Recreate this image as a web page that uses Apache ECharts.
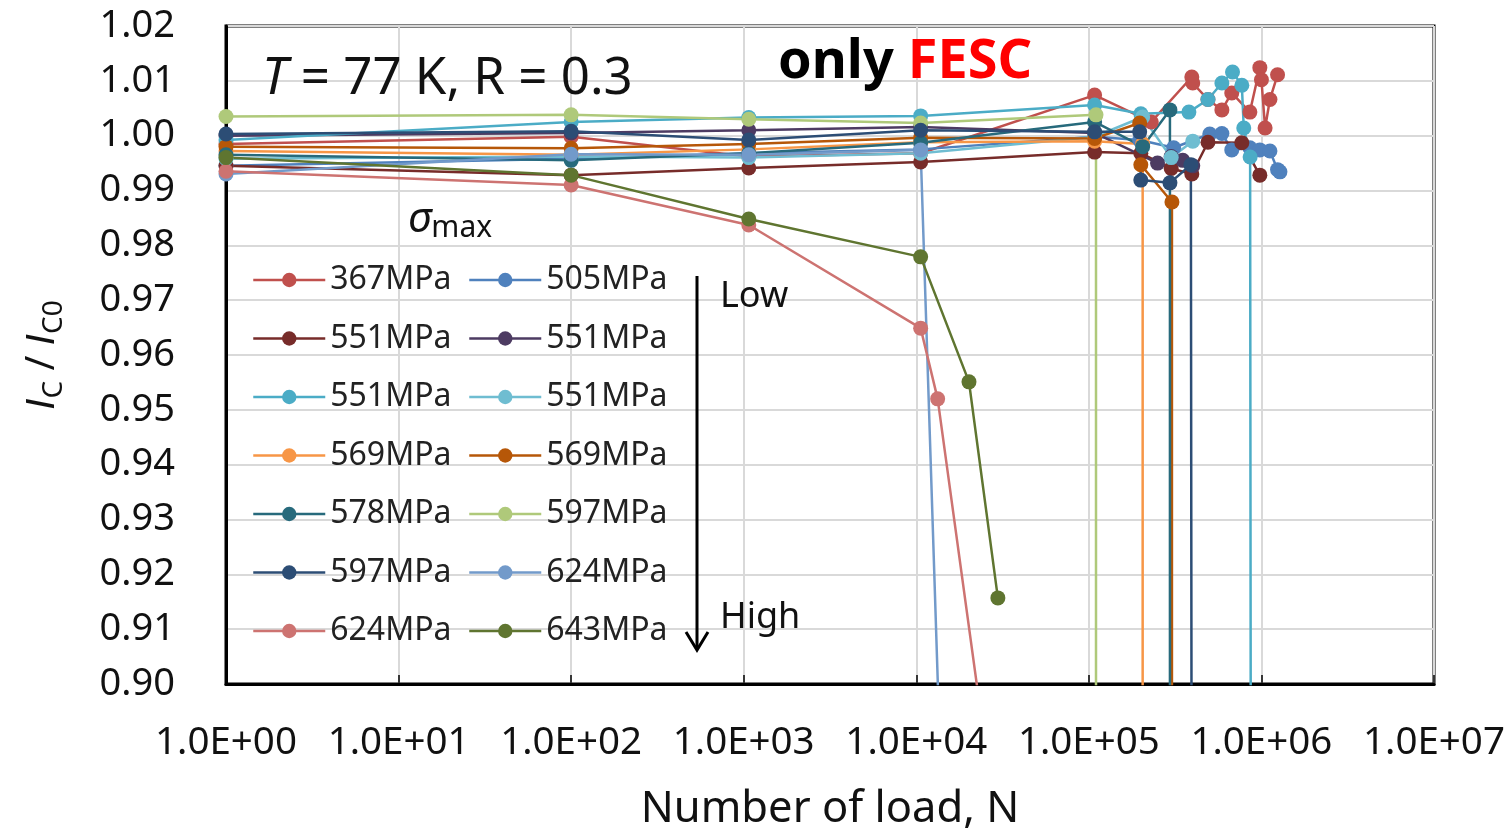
<!DOCTYPE html>
<html>
<head>
    <meta charset="utf-8">
    <title>Ic/Ic0 vs number of load</title>
    <script src="https://cdn.jsdelivr.net/npm/echarts@6/dist/echarts.min.js"></script>
    <style>
        body { margin: 0; background: #fff; }
        #chart { width: 1506px; height: 831px; }
    </style>
</head>
<body>
<div id="chart"></div>
<script type="text/javascript">
    // number of load N and Ic/Ic0 for each sigma_max
    var N_367 = [1, 100, 1070, 10600, 108000, 230000, 395000, 400000, 490000, 590000, 673000, 857000, 979000, 1000000, 1050000, 1120000, 1240000];
    var R_367 = [0.9985, 0.9998, 0.9962, 0.9968, 1.0074, 1.0025, 1.0107, 1.0096, 1.0066, 1.0047, 1.0078, 1.0043, 1.0124, 1.0102, 1.0014, 1.0066, 1.0111];

    var N_505 = [1, 100, 1070, 10600, 108000, 197000, 310000, 502000, 590000, 673000, 857000, 979000, 1120000, 1240000, 1280000];
    var R_505 = [0.9945, 0.9958, 0.9968, 0.9975, 0.9998, 0.9992, 0.9978, 1.0003, 1.0004, 0.9974, 0.9978, 0.9974, 0.9972, 0.9938, 0.9934];

    var N_551a = [1, 100, 1070, 10600, 108000, 200000, 300000, 395000, 490000, 770000, 979000];
    var R_551a = [0.9945, 0.9928, 0.9941, 0.9952, 0.9970, 0.9968, 0.9940, 0.9930, 0.9988, 0.9987, 0.9928];

    var N_551b = [1, 100, 1070, 10600, 108000, 250000, 300000, 350000, 400000];
    var R_551b = [1.0000, 1.0005, 1.0010, 1.0016, 1.0005, 0.9950, 0.9962, 0.9955, 0.9945];

    var N_551c = [1, 100, 1070, 10600, 108000, 200000, 380000, 490000, 590000, 680000, 770000, 790000, 860000, 870000];
    var R_551c = [0.9992, 1.0025, 1.0033, 1.0036, 1.0056, 1.0040, 1.0043, 1.0066, 1.0096, 1.0116, 1.0092, 1.0014, 0.9961, 0.85];

    var N_551d = [1, 100, 1070, 10600, 108000, 205000, 300000, 400000];
    var R_551d = [0.9958, 0.9962, 0.9960, 0.9968, 0.9998, 1.0034, 0.9960, 0.9990];

    var N_569a = [1, 100, 1070, 10600, 108000, 205000, 205000];
    var R_569a = [0.9972, 0.9965, 0.9975, 0.9988, 0.9990, 0.9985, 0.85];

    var N_569b = [1, 100, 1070, 10600, 108000, 197000, 200000, 303000, 303000];
    var R_569b = [0.9980, 0.9977, 0.9985, 0.9996, 0.9995, 1.0023, 0.9947, 0.9879, 0.85];

    var N_578 = [1, 100, 1070, 10600, 108000, 205000, 295000, 295000];
    var R_578 = [0.9965, 0.9955, 0.9968, 0.9987, 1.0025, 0.9980, 1.0047, 0.85];

    var N_597a = [1, 100, 1070, 10600, 110000, 110000];
    var R_597a = [1.0035, 1.0038, 1.0030, 1.0023, 1.0038, 0.85];

    var N_597b = [1, 100, 1070, 10600, 108000, 197000, 200000, 295000, 390000, 395000];
    var R_597b = [1.0003, 1.0008, 0.9992, 1.0010, 1.0007, 1.0007, 0.9919, 0.9914, 0.9947, 0.85];

    var N_624a = [1, 100, 1070, 10600, 15000];
    var R_624a = [0.9930, 0.9966, 0.9965, 0.9974, 0.85];

    var N_624b = [1, 100, 1070, 10600, 13300, 37000];
    var R_624b = [0.9935, 0.9910, 0.9837, 0.9649, 0.9520, 0.85];

    var N_643 = [1, 100, 1070, 10600, 20200, 29700];
    var R_643 = [0.9960, 0.9928, 0.9848, 0.9779, 0.9551, 0.9157];

    var labels = ['367MPa', '505MPa', '551MPa', '551MPa', '551MPa', '551MPa', '569MPa',
                  '569MPa', '578MPa', '597MPa', '597MPa', '624MPa', '624MPa', '643MPa'];
    var loads = [N_367, N_505, N_551a, N_551b, N_551c, N_551d, N_569a, N_569b, N_578, N_597a, N_597b, N_624a, N_624b, N_643];
    var ratios = [R_367, R_505, R_551a, R_551b, R_551c, R_551d, R_569a, R_569b, R_578, R_597a, R_597b, R_624a, R_624b, R_643];
    var colors = ['#C0504D', '#4F81BD', '#772C2A', '#4D3B62', '#4BACC6', '#6FBDD1', '#F79646',
                  '#B65708', '#276A7C', '#AFC97A', '#2C4D75', '#729ACA', '#CD7371', '#5F7530'];

    var font = 'Noto Sans';

    // unique names so the legend keeps the repeated stresses apart
    var names = labels.map(function (l, i) { return l + '#' + i; });

    var series = names.map(function (name, i) {
        return {
            name: name,
            type: 'line',
            symbol: 'circle',
            symbolSize: 15,
            clip: true,
            color: colors[i],
            lineStyle: { width: 2.5, color: colors[i] },
            itemStyle: { color: colors[i] },
            emphasis: { disabled: true },
            data: loads[i].map(function (n, k) { return [n, ratios[i][k]]; })
        };
    });

    var legendBase = {
        orient: 'vertical',
        top: 259,
        itemWidth: 72,
        itemHeight: 18,
        itemGap: 26.5,
        lineStyle: { width: 2.5 },
        formatter: function (n) { return n.split('#')[0]; },
        textStyle: { fontFamily: font, fontSize: 32, color: '#222', lineHeight: 32 }
    };

    var chart = echarts.init(document.getElementById('chart'));
    chart.setOption({
        backgroundColor: '#fff',
        animation: false,
        textStyle: { fontFamily: font },
        grid: {
            left: 226, right: 72, top: 26, bottom: 147,
            outerBoundsMode: 'none',
            containLabel: false,
            show: true, borderColor: '#000', borderWidth: 3
        },
        legend: [
            Object.assign({}, legendBase, { left: 247, data: names.filter(function (n, i) { return i % 2 === 0; }) }),
            Object.assign({}, legendBase, { left: 463, data: names.filter(function (n, i) { return i % 2 === 1; }) })
        ],
        xAxis: {
            type: 'log',
            logBase: 10,
            min: 1,
            max: 10000000,
            name: 'Number of load, N',
            nameLocation: 'middle',
            nameGap: 104,
            nameTextStyle: { fontFamily: font, fontSize: 43.5, color: '#111' },
            axisLine: { lineStyle: { color: '#000', width: 3 } },
            axisTick: { inside: true, length: 9, lineStyle: { color: '#000', width: 1.5 } },
            minorTick: { show: false },
            splitLine: { show: true, lineStyle: { color: '#D9D9D9', width: 2 } },
            axisLabel: {
                fontFamily: font, fontSize: 38.5, color: '#111', margin: 40,
                formatter: function (v) {
                    var e = Math.round(Math.log10(v));
                    return '1.0E+' + (e < 10 ? '0' : '') + e;
                }
            }
        },
        yAxis: {
            type: 'value',
            min: 0.90,
            max: 1.02,
            interval: 0.01,
            name: '{i|I}{s|C}{t| / }{i|I}{s|C0}',
            nameLocation: 'middle',
            nameRotate: 90,
            nameGap: 158,
            nameTextStyle: {
                fontFamily: font, fontSize: 40, color: '#111',
                rich: {
                    i: { fontFamily: 'Liberation Sans', fontSize: 40, fontStyle: 'italic', color: '#111', lineHeight: 50 },
                    t: { fontFamily: font, fontSize: 40, color: '#111', lineHeight: 50 },
                    s: { fontFamily: font, fontSize: 28, color: '#111', verticalAlign: 'bottom', lineHeight: 34 }
                }
            },
            axisLine: { show: true, lineStyle: { color: '#000', width: 3 } },
            axisTick: { show: false },
            splitLine: { show: true, lineStyle: { color: '#D9D9D9', width: 2 } },
            axisLabel: {
                fontFamily: font, fontSize: 38, color: '#111', margin: 51,
                formatter: function (v) { return v.toFixed(2); }
            }
        },
        graphic: [
            {
                type: 'text', left: 262, top: 54, z: 100,
                style: {
                    text: '{i|T} = 77 K, R = 0.3',
                    font: '51px "Noto Sans"', fill: '#111',
                    rich: { i: { fontFamily: font, fontSize: 51, fontStyle: 'italic', fill: '#111' } }
                }
            },
            {
                type: 'text', left: 778, top: 36, z: 100,
                style: {
                    text: '{b|only} {r|FESC}',
                    font: 'bold 54px "Noto Sans"', fill: '#000',
                    rich: {
                        b: { fontFamily: font, fontSize: 54, fontWeight: 'bold', fill: '#000' },
                        r: { fontFamily: font, fontSize: 54, fontWeight: 'bold', fill: '#FF0000' }
                    }
                }
            },
            {
                type: 'text', left: 408, top: 199, z: 100,
                style: {
                    text: '{g|σ}{m|max}',
                    fill: '#111',
                    rich: {
                        g: { fontFamily: font, fontSize: 42, fontStyle: 'italic', fill: '#111', lineHeight: 46 },
                        m: { fontFamily: font, fontSize: 30, fill: '#111', verticalAlign: 'bottom', lineHeight: 30 }
                    }
                }
            },
            {
                type: 'text', left: 720, top: 279, z: 100,
                style: { text: 'Low', font: '36px "Noto Sans"', fill: '#111' }
            },
            {
                type: 'text', left: 720, top: 600, z: 100,
                style: { text: 'High', font: '36px "Noto Sans"', fill: '#111' }
            },
            {
                type: 'line', z: 100,
                shape: { x1: 697, y1: 276, x2: 697, y2: 648 },
                style: { stroke: '#000', lineWidth: 3 }
            },
            {
                type: 'polyline', z: 100,
                shape: { points: [[686, 632], [697, 650], [708, 632]] },
                style: { stroke: '#000', lineWidth: 3, fill: null }
            }
        ],
        series: series
    });
</script>
</body>
</html>
